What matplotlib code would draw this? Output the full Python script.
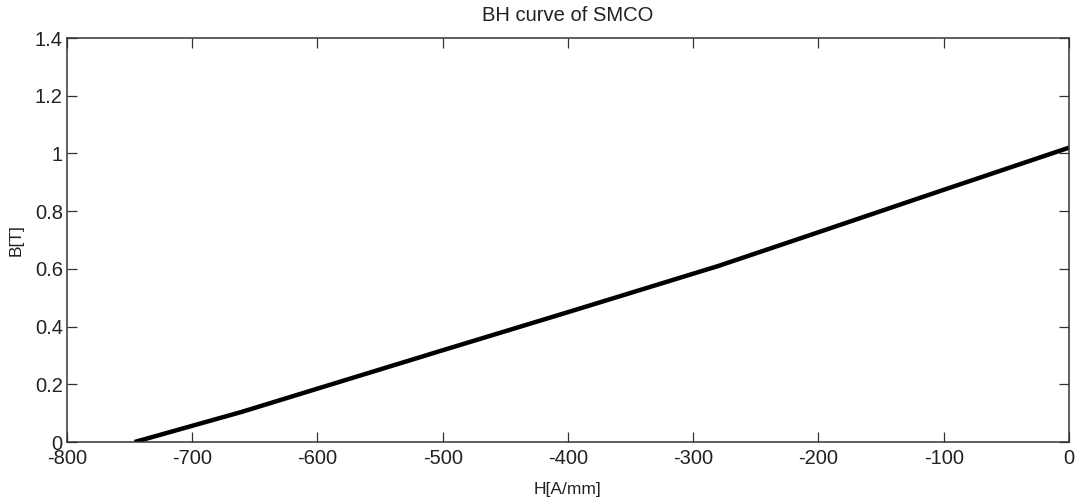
import matplotlib
matplotlib.use("Agg")
import matplotlib.pyplot as plt

H = [-746, -660, -600, -500, -400, -280, -200, -100, 0]
B = [0.0, 0.105, 0.185, 0.318, 0.45, 0.61, 0.727, 0.874, 1.02]
xticks = [-800, -700, -600, -500, -400, -300, -200, -100, 0]
yticks = [0, 0.2, 0.4, 0.6, 0.8, 1, 1.2, 1.4]
ytick_labels = ["0", "0.2", "0.4", "0.6", "0.8", "1", "1.2", "1.4"]

plt.rcParams['font.family'] = ['Liberation Sans', 'DejaVu Sans']
fig = plt.figure(figsize=(10.8, 4.99), dpi=100)
ax = fig.add_axes([0.062, 0.1142, 0.9278, 0.8096])
ax.plot(H, B, color='black', linewidth=3.2, solid_capstyle='butt')
ax.set_xlim(-800, 0)
ax.set_ylim(0, 1.4)
ax.set_xticks(xticks)
ax.set_xticklabels([str(t) for t in xticks])
ax.set_yticks(yticks)
ax.set_yticklabels(ytick_labels)
ax.tick_params(direction='in', length=7, width=0.9, colors='#333333',
               labelcolor='#222222', labelsize=14.5, top=True, right=True)
ax.tick_params(axis='x', pad=5)
ax.tick_params(axis='y', pad=3)
for s in ax.spines.values():
    s.set_color('#333333')
    s.set_linewidth(1.1)
ax.set_title("BH curve of SMCO", fontsize=14.5, color='#222222', pad=12)
ax.set_xlabel("H[A/mm]", fontsize=12.5, color='#222222', labelpad=10)
ax.set_ylabel("B[T]", fontsize=12.5, color='#222222', labelpad=8)
fig.savefig("out.png", dpi=100)
